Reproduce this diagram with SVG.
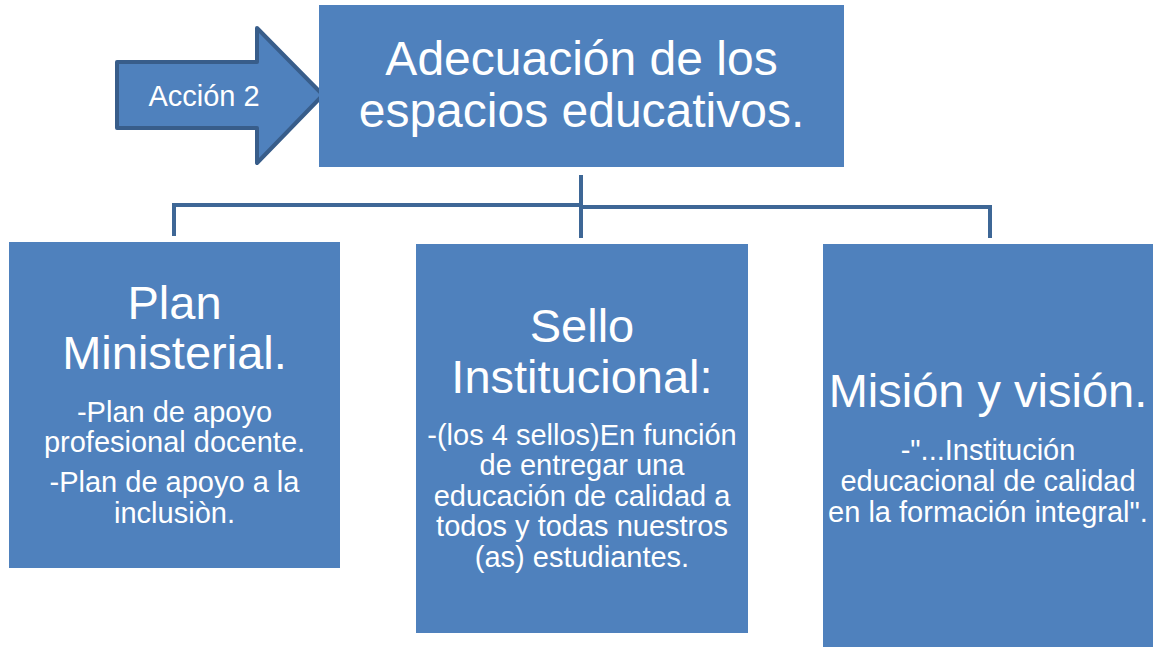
<svg xmlns="http://www.w3.org/2000/svg" width="1153" height="647" viewBox="0 0 1153 647">
<style>
.box{fill:#4f81bd}
.t{fill:#ffffff;font-family:"Liberation Sans",Arial,sans-serif;text-anchor:middle}
.h{font-size:47px}
.s{font-size:29px}
.conn{fill:none;stroke:#3e6796;stroke-width:4}
</style>
<rect width="1153" height="647" fill="#ffffff"/>
<g id="connectors">
<polyline class="conn" points="581,175 581,205 174,205 174,236"/>
<polyline class="conn" points="581,175 581,207 990,207 990,238"/>
<line class="conn" x1="581" y1="205" x2="581" y2="238"/>
</g>
<g id="arrow">
<polygon points="117,62 257,62 257,28 323,95 257,163 257,128 117,128" fill="#4f81bd" stroke="#385d8a" stroke-width="4" stroke-linejoin="round"/>
<text class="t" x="204" y="106" font-size="29">Acción 2</text>
</g>
<g id="top">
<rect class="box" x="319" y="5" width="525" height="162"/>
<text class="t" x="581.5" y="75" font-size="48">Adecuación de los</text>
<text class="t" x="581.5" y="127" font-size="48">espacios educativos.</text>
</g>
<g id="plan">
<rect class="box" x="9" y="242" width="331" height="326"/>
<text class="t h" x="174.5" y="319">Plan</text>
<text class="t h" x="174.5" y="369">Ministerial.</text>
<text class="t s" x="174.5" y="422">-Plan de apoyo</text>
<text class="t s" x="174.5" y="452">profesional docente.</text>
<text class="t s" x="174.5" y="492">-Plan de apoyo a la</text>
<text class="t s" x="174.5" y="523">inclusiòn.</text>
</g>
<g id="sello">
<rect class="box" x="416" y="244" width="332" height="389"/>
<text class="t h" x="582" y="342">Sello</text>
<text class="t h" x="582" y="393">Institucional:</text>
<text class="t s" x="582" y="445">-(los 4 sellos)En función</text>
<text class="t s" x="582" y="475">de entregar una</text>
<text class="t s" x="582" y="506">educación de calidad a</text>
<text class="t s" x="582" y="536">todos y todas nuestros</text>
<text class="t s" x="582" y="567">(as) estudiantes.</text>
</g>
<g id="mision">
<rect class="box" x="823" y="244" width="330" height="403"/>
<text class="t h" x="988" y="407">Misión y visión.</text>
<text class="t s" x="988" y="460">-"...Institución</text>
<text class="t s" x="988" y="491">educacional de calidad</text>
<text class="t s" x="988" y="522">en la formación integral".</text>
</g>
</svg>
